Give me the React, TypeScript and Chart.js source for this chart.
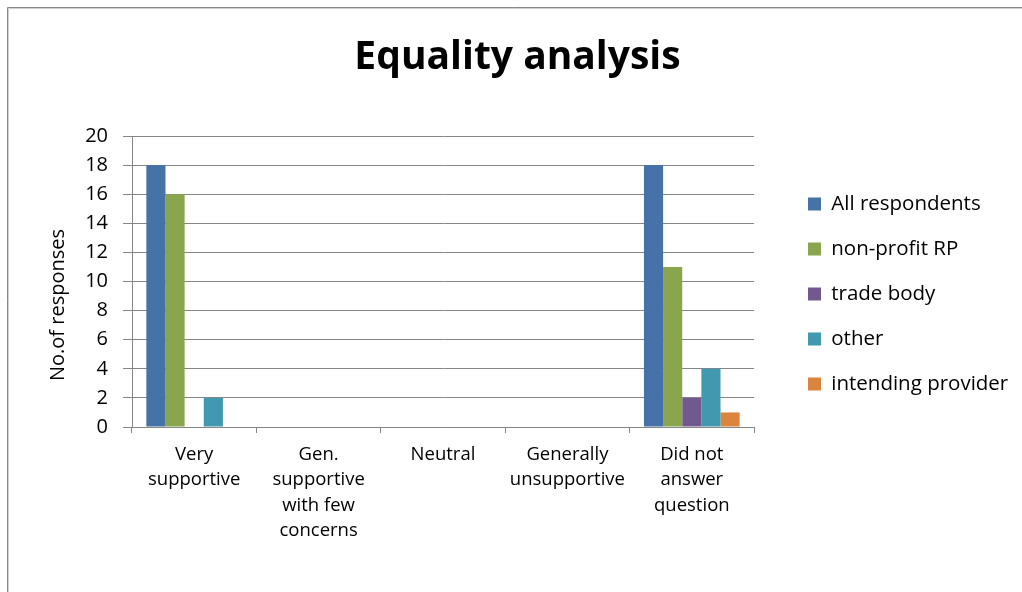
import React, { useEffect, useRef } from "react";
import { Chart, registerables } from "chart.js";

Chart.register(...registerables);

const chartTitle = "Equality analysis";
const yAxisTitle = "No.of responses";
const categories: string[][] = [
  ["Very", "supportive"],
  ["Gen.", "supportive", "with few", "concerns"],
  ["Neutral"],
  ["Generally", "unsupportive"],
  ["Did not", "answer", "question"],
];
const seriesNames = ["All respondents", "non-profit RP", "trade body", "other", "intending provider"];
const allRespondents = [18, 0, 0, 0, 18];
const nonProfitRP = [16, 0, 0, 0, 11];
const tradeBody = [0, 0, 0, 0, 2];
const other = [2, 0, 0, 0, 4];
const intendingProvider = [0, 0, 0, 0, 1];
const seriesColors = ["#4572A7", "#89A54E", "#71588F", "#4198AF", "#DB843D"];
const yMin = 0;
const yMax = 20;
const yStep = 2;

const FONT = "'Open Sans'";
const GRID = "#868686";

const framePlugin = {
  id: "frameAndYTitle",
  beforeDraw(chart: any) {
    const ctx = chart.ctx;
    ctx.save();
    ctx.strokeStyle = "#878787";
    ctx.lineWidth = 1;
    ctx.beginPath();
    ctx.moveTo(7.5, 592);
    ctx.lineTo(7.5, 7.5);
    ctx.lineTo(1022, 7.5);
    ctx.stroke();
    ctx.strokeStyle = "#cfcfcf";
    ctx.beginPath();
    ctx.moveTo(8.5, 592);
    ctx.lineTo(8.5, 8.5);
    ctx.lineTo(1022, 8.5);
    ctx.stroke();
    ctx.restore();
  },
  afterDraw(chart: any) {
    const ctx = chart.ctx;
    const area = chart.chartArea;
    ctx.save();
    ctx.translate(area.left - 73.5, area.top + 169);
    ctx.rotate(-Math.PI / 2);
    ctx.font = `20px ${FONT}`;
    ctx.fillStyle = "#000";
    ctx.textAlign = "center";
    ctx.textBaseline = "middle";
    ctx.fillText(yAxisTitle, 0, 0);
    ctx.restore();
  },
};

export default function App() {
  const ref = useRef<HTMLCanvasElement | null>(null);

  useEffect(() => {
    if (!ref.current) return;
    const values = [allRespondents, nonProfitRP, tradeBody, other, intendingProvider];
    const chart = new Chart(ref.current, {
      type: "bar",
      data: {
        labels: categories,
        datasets: seriesNames.map((name, i) => ({
          label: name,
          data: values[i],
          backgroundColor: seriesColors[i],
          borderWidth: 0,
          categoryPercentage: 5 / 6.5,
          barPercentage: 1,
        })),
      },
      options: {
        animation: false,
        responsive: true,
        maintainAspectRatio: false,
        layout: { padding: { left: 22, right: 9, top: 0, bottom: 4 } },
        plugins: {
          title: {
            display: true,
            text: chartTitle,
            color: "#000",
            font: { family: FONT, size: 39, weight: "bold", lineHeight: 1.2 },
            padding: { top: 34.5, bottom: 54.7 },
          },
          legend: {
            display: true,
            position: "right",
            align: "center",
            maxWidth: 229.5,
            labels: {
              color: "#000",
              font: { family: FONT, size: 20.5 },
              boxWidth: 13,
              boxHeight: 13,
              padding: 24.5,
            },
          },
          tooltip: { enabled: false },
        },
        scales: {
          x: {
            type: "category",
            offset: true,
            grid: {
              display: true,
              offset: true,
              drawOnChartArea: false,
              drawTicks: true,
              tickLength: 6,
              color: GRID,
            },
            border: { display: true, color: GRID },
            ticks: {
              color: "#000",
              font: { family: FONT, size: 18.5, lineHeight: 1.37 },
              padding: 9,
              maxRotation: 0,
              autoSkip: false,
            },
            afterFit(s: any) {
              s.height = 161;
            },
          },
          y: {
            min: yMin,
            max: yMax,
            ticks: {
              stepSize: yStep,
              color: "#000",
              font: { family: FONT, size: 20 },
              padding: 15,
            },
            grid: { color: GRID, tickLength: 9 },
            border: { display: true, color: GRID },
            afterFit(s: any) {
              s.width = 110;
            },
          },
          gap: {
            type: "linear",
            position: "right",
            display: false,
            afterFit(s: any) {
              s.width = 29.5;
            },
          },
        },
      },
      plugins: [framePlugin],
    });
    return () => chart.destroy();
  }, []);

  return (
    <div style={{ position: "fixed", left: 0, top: 0, width: 1022, height: 592, background: "#fff" }}>
      <canvas ref={ref} />
    </div>
  );
}
